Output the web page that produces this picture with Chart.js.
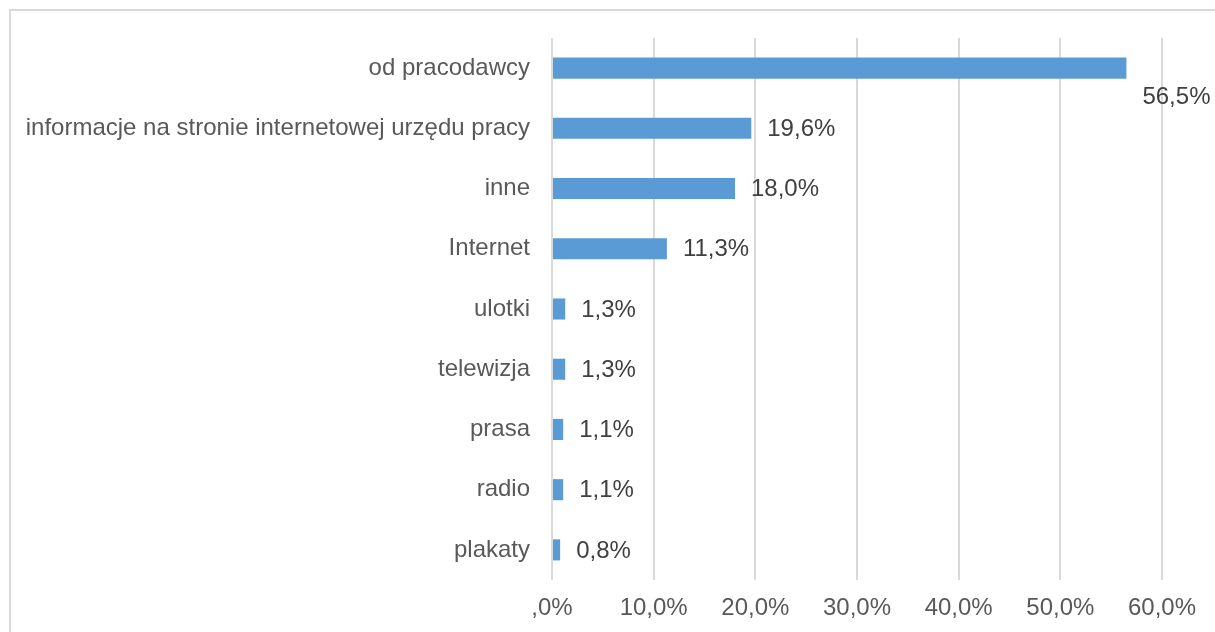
<!DOCTYPE html>
<html>
<head>
<meta charset="utf-8">
<script src="https://cdn.jsdelivr.net/npm/chart.js@4.4.1/dist/chart.umd.min.js"></script>
<style>
    html, body { margin: 0; padding: 0; background: #fff; overflow: hidden; }
    #wrap { position: relative; width: 1215px; height: 632px; }
    #frame {
        position: absolute; left: 9px; top: 9px;
        width: 1220px; height: 640px;
        border: 2px solid #d9d9d9; box-sizing: border-box;
    }
    canvas { position: absolute; left: 0; top: 0; }
</style>
</head>
<body>
<div id="wrap">
    <div id="frame"></div>
    <canvas id="chart" width="1215" height="632"></canvas>
</div>
<script>
// Źródła informacji – odsetek wskazań
const categories = [
    'od pracodawcy',
    'informacje na stronie internetowej urzędu pracy',
    'inne',
    'Internet',
    'ulotki',
    'telewizja',
    'prasa',
    'radio',
    'plakaty'
];
const values = [56.5, 19.6, 18.0, 11.3, 1.3, 1.3, 1.1, 1.1, 0.8];
const tickLabels = [',0%', '10,0%', '20,0%', '30,0%', '40,0%', '50,0%', '60,0%'];

const FONT = '"Liberation Sans", Arial, sans-serif';

function formatPct(v) {
    return v.toFixed(1).replace('.', ',') + '%';
}

// Etykiety wartości obok słupków (gdy brak miejsca – przesunięte w dół)
const valueLabels = {
    id: 'valueLabels',
    afterDatasetsDraw(chart) {
        const ctx = chart.ctx;
        const meta = chart.getDatasetMeta(0);
        ctx.save();
        ctx.font = '24px ' + FONT;
        ctx.fillStyle = '#404040';
        ctx.textBaseline = 'middle';
        ctx.textAlign = 'left';
        meta.data.forEach((bar, i) => {
            const text = formatPct(values[i]);
            const x = bar.x + 16;
            let y = bar.y + 1;
            if (x + ctx.measureText(text).width > chart.chartArea.right + 30) {
                y += 28;
            }
            ctx.fillText(text, x, y);
        });
        ctx.restore();
    }
};

new Chart(document.getElementById('chart'), {
    type: 'bar',
    data: {
        labels: categories,
        datasets: [{
            data: values,
            backgroundColor: '#5b9bd5',
            barPercentage: 0.7,
            categoryPercentage: 0.5
        }]
    },
    options: {
        indexAxis: 'y',
        responsive: false,
        animation: false,
        layout: {
            padding: { left: 0, top: 38, right: 53, bottom: 0 }
        },
        plugins: {
            legend: { display: false },
            tooltip: { enabled: false }
        },
        scales: {
            x: {
                min: 0,
                max: 60,
                ticks: {
                    stepSize: 10,
                    color: '#595959',
                    font: { family: FONT, size: 24 },
                    padding: 14,
                    callback: (v, i) => tickLabels[i]
                },
                grid: {
                    color: '#d9d9d9',
                    lineWidth: 2,
                    drawTicks: false
                },
                border: { display: false },
                afterFit(scale) { scale.height = 52; }
            },
            y: {
                ticks: {
                    color: '#595959',
                    font: { family: FONT, size: 24 },
                    padding: 22
                },
                grid: { display: false, drawTicks: false },
                border: { display: false },
                afterFit(scale) { scale.width = 552; }
            }
        }
    },
    plugins: [valueLabels]
});
</script>
</body>
</html>
